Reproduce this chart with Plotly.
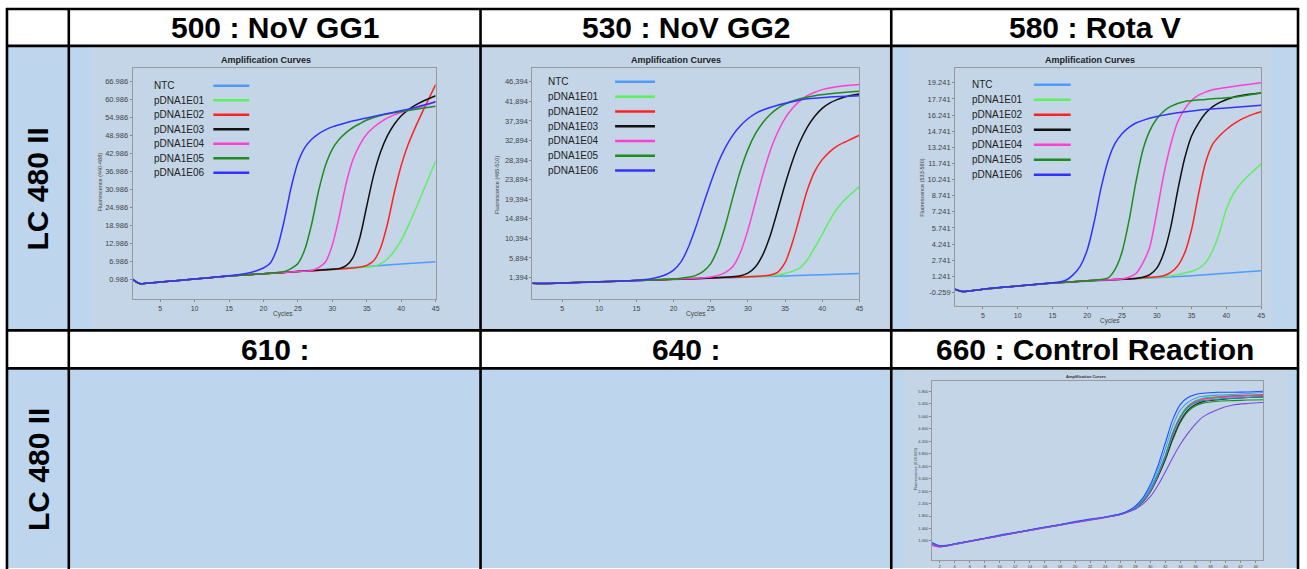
import plotly.graph_objects as go

W, H = 1307, 569

# ---------------- data ----------------
SERIES_NAMES = ["NTC", "pDNA1E01", "pDNA1E02", "pDNA1E03", "pDNA1E04", "pDNA1E05", "pDNA1E06"]
SERIES_COLORS = ["#4f9bff", "#5ef05e", "#ff2222", "#111111", "#ff3fd2", "#1e8c1e", "#3333ff"]

# Panel 1 : 500 NoV GG1
G1_NTC_X = [1, 2, 3, 5, 10, 15, 20, 25, 30, 35, 40, 45]
G1_NTC_Y = [1.0, -0.4, -0.3, 0.1, 1.1, 2.1, 2.9, 3.7, 4.5, 5.3, 6.1, 6.9]
G1_E01_X = [1, 2, 3, 5, 10, 15, 20, 25, 30, 35, 36, 37, 38, 39, 40, 41, 42, 43, 44, 45]
G1_E01_Y = [1.0, -0.4, -0.3, 0.1, 1.1, 2.1, 2.9, 3.6, 4.3, 5.1, 5.4, 6.2, 7.8, 10.5, 14.0, 18.8, 24.0, 29.5, 35.0, 40.4]
G1_E02_X = [1, 2, 3, 5, 10, 15, 20, 25, 30, 33, 34, 35, 36, 37, 38, 39, 40, 41, 42, 43, 44, 45]
G1_E02_Y = [1.0, -0.4, -0.3, 0.1, 1.1, 2.1, 2.9, 3.6, 4.3, 4.8, 5.1, 5.7, 7.2, 11.5, 19.5, 30.0, 39.0, 46.0, 51.5, 56.5, 61.3, 66.0]
G1_E03_X = [1, 2, 3, 5, 10, 15, 20, 25, 30, 31, 32, 33, 34, 35, 36, 37, 38, 39, 40, 41, 42, 43, 45]
G1_E03_Y = [1.0, -0.4, -0.3, 0.1, 1.1, 2.1, 2.9, 3.6, 4.4, 4.6, 5.6, 8.3, 15.0, 25.5, 35.8, 43.5, 49.0, 52.8, 55.6, 57.6, 59.1, 60.3, 62.3]
G1_E04_X = [1, 2, 3, 5, 10, 15, 20, 25, 27, 28, 29, 30, 31, 32, 33, 34, 35, 36, 37, 38, 40, 42, 45]
G1_E04_Y = [1.0, -0.4, -0.3, 0.1, 1.1, 2.1, 2.9, 3.6, 4.0, 4.9, 6.8, 12.5, 22.0, 33.0, 41.0, 46.0, 49.5, 51.8, 53.5, 54.9, 56.8, 58.0, 60.3]
G1_E05_X = [1, 2, 3, 5, 10, 15, 20, 22, 23, 24, 25, 26, 27, 28, 29, 30, 31, 32, 33, 34, 35, 37, 40, 43, 45]
G1_E05_Y = [1.0, -0.4, -0.3, 0.1, 1.1, 2.1, 2.9, 3.3, 3.6, 4.6, 6.3, 11.0, 19.5, 30.5, 39.0, 44.5, 47.8, 50.0, 51.7, 53.0, 54.2, 55.7, 57.0, 58.1, 58.8]
G1_E06_X = [1, 2, 3, 5, 10, 15, 17, 18, 19, 20, 21, 22, 23, 24, 25, 26, 27, 28, 29, 30, 32, 35, 38, 41, 45]
G1_E06_Y = [1.0, -0.4, -0.3, 0.1, 1.1, 2.2, 2.8, 3.2, 3.9, 4.8, 6.5, 11.5, 20.5, 31.5, 40.0, 45.0, 47.8, 49.6, 50.9, 51.9, 53.3, 54.9, 56.4, 57.8, 60.3]
G1_YTICKS = [0.986, 6.986, 12.986, 18.986, 24.986, 30.986, 36.986, 42.986, 48.986, 54.986, 60.986, 66.986]
G1_YLABELS = ["0.986", "6.986", "12.986", "18.986", "24.986", "30.986", "36.986", "42.986", "48.986", "54.986", "60.986", "66.986"]

# Panel 2 : 530 NoV GG2
G2_NTC_X = [1, 2, 3, 5, 10, 15, 20, 25, 30, 35, 40, 45]
G2_NTC_Y = [0.1, 0.0, 0.02, 0.15, 0.4, 0.68, 0.95, 1.22, 1.5, 1.77, 2.04, 2.31]
G2_E01_X = [1, 2, 3, 5, 10, 15, 20, 25, 30, 33, 34, 35, 36, 37, 38, 39, 40, 41, 42, 43, 44, 45]
G2_E01_Y = [0.1, 0.0, 0.02, 0.15, 0.4, 0.7, 1.0, 1.3, 1.6, 1.8, 2.0, 2.3, 2.8, 3.6, 5.5, 8.3, 11.3, 14.5, 17.2, 19.2, 20.8, 22.3]
G2_E02_X = [1, 2, 3, 5, 10, 15, 20, 25, 30, 33, 34, 35, 36, 37, 38, 39, 40, 41, 42, 43, 44, 45]
G2_E02_Y = [0.1, 0.0, 0.02, 0.15, 0.4, 0.7, 1.0, 1.3, 1.6, 2.0, 2.6, 4.8, 9.5, 15.5, 21.5, 25.8, 28.5, 30.3, 31.6, 32.5, 33.3, 34.1]
G2_E03_X = [1, 2, 3, 5, 10, 15, 20, 25, 29, 30, 31, 32, 33, 34, 35, 36, 37, 38, 39, 40, 41, 42, 43, 44, 45]
G2_E03_Y = [0.1, 0.0, 0.02, 0.15, 0.4, 0.7, 1.0, 1.3, 1.8, 2.4, 3.8, 6.6, 11.0, 16.8, 22.8, 28.2, 32.6, 36.0, 38.5, 40.3, 41.5, 42.3, 42.9, 43.3, 43.6]
G2_E04_X = [1, 2, 3, 5, 10, 15, 20, 25, 27, 28, 29, 30, 31, 32, 33, 34, 35, 36, 37, 38, 39, 40, 41, 43, 45]
G2_E04_Y = [0.1, 0.0, 0.02, 0.15, 0.4, 0.7, 1.05, 1.5, 2.6, 4.0, 7.2, 12.3, 18.6, 25.0, 30.5, 34.8, 38.0, 40.3, 42.0, 43.2, 44.0, 44.6, 45.0, 45.5, 45.8]
G2_E05_X = [1, 2, 3, 5, 10, 15, 20, 21, 22, 23, 24, 25, 26, 27, 28, 29, 30, 31, 32, 33, 34, 35, 37, 39, 42, 45]
G2_E05_Y = [0.1, 0.0, 0.02, 0.15, 0.4, 0.7, 1.1, 1.25, 1.45, 1.9, 2.8, 4.6, 8.2, 13.6, 20.0, 26.0, 30.8, 34.4, 37.0, 38.9, 40.3, 41.3, 42.5, 43.2, 43.8, 44.2]
G2_E06_X = [1, 2, 3, 5, 10, 15, 17, 18, 19, 20, 21, 22, 23, 24, 25, 26, 27, 28, 29, 30, 31, 32, 34, 36, 38, 41, 45]
G2_E06_Y = [0.1, 0.0, 0.02, 0.15, 0.4, 0.75, 1.1, 1.5, 2.1, 3.1, 5.0, 8.4, 13.0, 18.2, 23.2, 27.8, 31.4, 34.2, 36.3, 37.9, 39.1, 39.9, 41.0, 41.8, 42.5, 42.9, 43.2]
G2_YTICKS = [1.394, 5.894, 10.394, 14.894, 19.394, 23.894, 28.394, 32.894, 37.394, 41.894, 46.394]
G2_YLABELS = ["1,394", "5,894", "10,394", "14,894", "19,394", "23,894", "28,394", "32,894", "37,394", "41,894", "46,394"]

# Panel 3 : 580 Rota V
RV_NTC_X = [1, 2, 3, 5, 10, 15, 20, 25, 30, 35, 40, 45]
RV_NTC_Y = [0.05, -0.17, -0.12, 0.05, 0.35, 0.6, 0.78, 0.95, 1.12, 1.3, 1.52, 1.76]
RV_E01_X = [1, 2, 3, 5, 10, 15, 20, 25, 30, 32, 33, 34, 35, 36, 37, 38, 39, 40, 41, 42, 43, 44, 45]
RV_E01_Y = [0.05, -0.17, -0.12, 0.05, 0.35, 0.62, 0.82, 0.98, 1.15, 1.3, 1.4, 1.55, 1.7, 1.95, 2.5, 3.6, 5.3, 7.5, 8.9, 9.8, 10.5, 11.1, 11.7]
RV_E02_X = [1, 2, 3, 5, 10, 15, 20, 25, 29, 30, 31, 32, 33, 34, 35, 36, 37, 38, 39, 40, 41, 42, 43, 44, 45]
RV_E02_Y = [0.05, -0.17, -0.12, 0.05, 0.35, 0.62, 0.82, 0.98, 1.15, 1.2, 1.3, 1.6, 2.2, 3.4, 5.6, 8.9, 11.8, 13.5, 14.3, 14.9, 15.4, 15.8, 16.1, 16.35, 16.55]
RV_E03_X = [1, 2, 3, 5, 10, 15, 20, 25, 27, 28, 29, 30, 31, 32, 33, 34, 35, 36, 37, 38, 39, 41, 43, 45]
RV_E03_Y = [0.05, -0.17, -0.12, 0.05, 0.35, 0.62, 0.82, 0.98, 1.05, 1.15, 1.4, 2.0, 3.4, 5.8, 9.2, 12.2, 14.3, 15.5, 16.4, 17.0, 17.4, 17.9, 18.15, 18.3]
RV_E04_X = [1, 2, 3, 5, 10, 15, 20, 24, 25, 26, 27, 28, 29, 30, 31, 32, 33, 34, 35, 36, 38, 41, 45]
RV_E04_Y = [0.05, -0.17, -0.12, 0.05, 0.35, 0.62, 0.82, 0.95, 1.0, 1.15, 1.5, 2.5, 4.0, 7.2, 10.7, 13.5, 15.6, 16.8, 17.6, 18.1, 18.6, 18.9, 19.24]
RV_E05_X = [1, 2, 3, 5, 10, 15, 20, 21, 22, 23, 24, 25, 26, 27, 28, 29, 30, 31, 32, 34, 37, 41, 45]
RV_E05_Y = [0.05, -0.17, -0.12, 0.05, 0.35, 0.62, 0.82, 0.88, 0.95, 1.1, 1.9, 3.5, 6.4, 10.0, 13.0, 14.8, 15.9, 16.6, 17.05, 17.5, 17.7, 17.9, 18.3]
RV_E06_X = [1, 2, 3, 5, 10, 15, 16, 17, 18, 19, 20, 21, 22, 23, 24, 25, 26, 27, 28, 30, 33, 36, 40, 45]
RV_E06_Y = [0.05, -0.17, -0.12, 0.05, 0.35, 0.65, 0.72, 0.9, 1.4, 2.2, 3.7, 6.3, 9.5, 12.0, 13.6, 14.5, 15.1, 15.5, 15.75, 16.1, 16.45, 16.7, 16.9, 17.15]
RV_YTICKS = [-0.259, 1.241, 2.741, 4.241, 5.741, 7.241, 8.741, 10.241, 11.741, 13.241, 14.741, 16.241, 17.741, 19.241]
RV_YLABELS = ["-0.259", "1.241", "2.741", "4.241", "5.741", "7.241", "8.741", "10.241", "11.741", "13.241", "14.741", "16.241", "17.741", "19.241"]

X_TICKS = [5, 10, 15, 20, 25, 30, 35, 40, 45]

# Panel 4 : 660 Control Reaction
CTRL_CYCLES = [1, 2, 3, 4, 6, 8, 10, 12, 14, 16, 18, 20, 22, 24, 26, 27, 28, 29, 30, 31, 32, 33, 34, 35, 36, 37, 39, 41, 43, 45]
CTRL_BLUE = [0.95, 0.85, 0.86, 0.91, 1.0, 1.09, 1.19, 1.27, 1.36, 1.45, 1.53, 1.62, 1.7, 1.77, 1.87, 1.96, 2.12, 2.38, 2.8, 3.4, 4.15, 4.9, 5.38, 5.6, 5.7, 5.74, 5.77, 5.77, 5.78, 5.8]
CTRL_LIGHTBLUE = [0.93, 0.84, 0.86, 0.9, 0.99, 1.08, 1.18, 1.27, 1.35, 1.44, 1.52, 1.61, 1.69, 1.77, 1.86, 1.95, 2.1, 2.35, 2.72, 3.28, 3.95, 4.7, 5.2, 5.45, 5.58, 5.64, 5.68, 5.7, 5.73, 5.76]
CTRL_GREEN = [0.92, 0.83, 0.85, 0.9, 0.99, 1.08, 1.17, 1.26, 1.35, 1.43, 1.52, 1.6, 1.68, 1.76, 1.86, 1.94, 2.08, 2.3, 2.65, 3.15, 3.75, 4.5, 5.0, 5.33, 5.5, 5.58, 5.63, 5.66, 5.68, 5.7]
CTRL_MAGENTA = [0.86, 0.81, 0.84, 0.89, 0.98, 1.07, 1.16, 1.25, 1.34, 1.42, 1.51, 1.59, 1.67, 1.75, 1.85, 1.93, 2.06, 2.27, 2.6, 3.1, 3.7, 4.4, 4.95, 5.3, 5.47, 5.55, 5.6, 5.63, 5.66, 5.68]
CTRL_RED = [0.9, 0.82, 0.85, 0.9, 0.99, 1.08, 1.17, 1.26, 1.35, 1.43, 1.52, 1.6, 1.68, 1.76, 1.85, 1.93, 2.07, 2.28, 2.62, 3.12, 3.72, 4.45, 4.98, 5.3, 5.46, 5.54, 5.6, 5.64, 5.66, 5.67]
CTRL_BLACK = [0.91, 0.83, 0.85, 0.9, 0.99, 1.08, 1.17, 1.26, 1.34, 1.43, 1.51, 1.6, 1.68, 1.76, 1.86, 1.94, 2.06, 2.26, 2.58, 3.05, 3.62, 4.3, 4.85, 5.2, 5.38, 5.47, 5.53, 5.57, 5.6, 5.62]
CTRL_DARKGREEN = [0.92, 0.83, 0.85, 0.9, 0.99, 1.08, 1.17, 1.26, 1.35, 1.43, 1.52, 1.6, 1.68, 1.76, 1.85, 1.93, 2.05, 2.25, 2.57, 3.05, 3.6, 4.25, 4.8, 5.15, 5.33, 5.42, 5.48, 5.5, 5.52, 5.53]
CTRL_TEAL = [0.93, 0.84, 0.85, 0.9, 0.99, 1.08, 1.17, 1.26, 1.35, 1.43, 1.52, 1.6, 1.68, 1.76, 1.86, 1.94, 2.07, 2.29, 2.63, 3.13, 3.73, 4.45, 4.97, 5.28, 5.43, 5.5, 5.55, 5.58, 5.6, 5.62]
CTRL_PURPLE = [0.9, 0.82, 0.85, 0.9, 0.99, 1.08, 1.17, 1.26, 1.35, 1.43, 1.52, 1.6, 1.68, 1.76, 1.85, 1.93, 2.02, 2.18, 2.42, 2.78, 3.22, 3.68, 4.1, 4.45, 4.75, 4.98, 5.22, 5.36, 5.41, 5.44]
CTRL_SERIES = [CTRL_GREEN, CTRL_DARKGREEN, CTRL_BLACK, CTRL_RED, CTRL_MAGENTA, CTRL_TEAL, CTRL_LIGHTBLUE, CTRL_BLUE, CTRL_PURPLE]
CTRL_COLORS = ["#22cc22", "#1e8c1e", "#222222", "#ff2a2a", "#ff33cc", "#00a8a8", "#3aa0ff", "#1f4fff", "#7a4ae0"]
CTRL_XTICKS = [2, 4, 6, 8, 10, 12, 14, 16, 18, 20, 22, 24, 26, 28, 30, 32, 34, 36, 38, 40, 42, 44]
CTRL_YTICKS = [1.0, 1.4, 1.8, 2.2, 2.6, 3.0, 3.4, 3.8, 4.2, 4.6, 5.0, 5.4, 5.8]
CTRL_YLABELS = ["1.000", "1.400", "1.800", "2.200", "2.600", "3.000", "3.400", "3.800", "4.200", "4.600", "5.000", "5.400", "5.800"]

COL_HEADERS = ["500 : NoV GG1", "530 : NoV GG2", "580 : Rota V", "610 :", "640 :", "660 : Control Reaction"]
ROW_LABEL = "LC 480 II"

# ---------------- helpers ----------------
def fx(p):
    return p / W

def fy(p):
    return 1 - p / H

def note(text, px, py, size, color, angle=0, xanchor="center"):
    return dict(text=text, x=fx(px), y=fy(py), xref="paper", yref="paper", xanchor=xanchor,
                yanchor="middle", textangle=angle, showarrow=False,
                font=dict(size=size, color=color, family="Liberation Sans"))

fig = go.Figure()

panels = [
    dict(ax="", xs=[G1_NTC_X, G1_E01_X, G1_E02_X, G1_E03_X, G1_E04_X, G1_E05_X, G1_E06_X],
         ys=[G1_NTC_Y, G1_E01_Y, G1_E02_Y, G1_E03_Y, G1_E04_Y, G1_E05_Y, G1_E06_Y],
         box=(133, 437, 68, 300), yr=[-5.7, 71.6], yt=G1_YTICKS, yl=G1_YLABELS,
         title_xy=(267, 60), ytitle="Fluorescence (440-488)", ytitle_xy=(100, 182), cyc_xy=(284, 315),
         leg=(152, 214, 250, 86, 14.5)),
    dict(ax="2", xs=[G2_NTC_X, G2_E01_X, G2_E02_X, G2_E03_X, G2_E04_X, G2_E05_X, G2_E06_X],
         ys=[G2_NTC_Y, G2_E01_Y, G2_E02_Y, G2_E03_Y, G2_E04_Y, G2_E05_Y, G2_E06_Y],
         box=(534, 862, 68, 300), yr=[-3.65, 49.6], yt=G2_YTICKS, yl=G2_YLABELS,
         title_xy=(678, 60), ytitle="Fluorescence (465-510)", ytitle_xy=(498, 185), cyc_xy=(698, 315),
         leg=(548, 617, 657, 82, 14.8)),
    dict(ax="3", xs=[RV_NTC_X, RV_E01_X, RV_E02_X, RV_E03_X, RV_E04_X, RV_E05_X, RV_E06_X],
         ys=[RV_NTC_Y, RV_E01_Y, RV_E02_Y, RV_E03_Y, RV_E04_Y, RV_E05_Y, RV_E06_Y],
         box=(958, 1265, 68, 307), yr=[-1.56, 20.63], yt=RV_YTICKS, yl=RV_YLABELS,
         title_xy=(1093, 60), ytitle="Fluorescence (533-580)", ytitle_xy=(925, 188), cyc_xy=(1113, 322),
         leg=(973, 1037, 1074, 85, 15.0)),
]

annotations = []
shapes = []

CELL_BLUE = "#bdd6ee"
IMG_BG = "#c3d5e7"

# cell backgrounds
shapes.append(dict(type="rect", xref="paper", yref="paper", x0=fx(7), x1=fx(1302), y0=fy(331), y1=fy(46),
                   fillcolor=CELL_BLUE, line=dict(width=0), layer="below"))
shapes.append(dict(type="rect", xref="paper", yref="paper", x0=fx(7), x1=fx(1302), y0=fy(569), y1=fy(369),
                   fillcolor=CELL_BLUE, line=dict(width=0), layer="below"))
for (a, b, c, d) in [(92, 481, 47, 330), (485, 893, 47, 330), (912, 1277, 47, 330), (905, 1292, 370, 569)]:
    shapes.append(dict(type="rect", xref="paper", yref="paper", x0=fx(a), x1=fx(b), y0=fy(d), y1=fy(c),
                       fillcolor=IMG_BG, line=dict(width=0), layer="below"))

def axis_common(fs, tl):
    return dict(showgrid=False, zeroline=False, showline=True, mirror=True, linecolor="#9a9a9a",
                linewidth=1, ticks="outside", ticklen=tl, tickcolor="#888",
                tickfont=dict(size=fs, color="#444", family="Liberation Sans"), fixedrange=True)

layout_axes = {}
for p in panels:
    ax = p["ax"]
    x0, x1, y0, y1 = p["box"]
    xa = axis_common(7, 2)
    xa.update(domain=[fx(x0), fx(x1)], range=[1, 45], tickvals=X_TICKS, anchor="y" + ax)
    ya = axis_common(7.5, 2)
    ya.update(domain=[fy(y1), fy(y0)], range=p["yr"], tickvals=p["yt"], ticktext=p["yl"], anchor="x" + ax)
    layout_axes["xaxis" + ax] = xa
    layout_axes["yaxis" + ax] = ya
    for xs, ys, col in zip(p["xs"], p["ys"], SERIES_COLORS):
        fig.add_trace(go.Scatter(x=xs, y=ys, mode="lines", xaxis="x" + ax, yaxis="y" + ax,
                                 line=dict(color=col, width=1.5, shape="spline", smoothing=0.8),
                                 showlegend=False, hoverinfo="skip"))
    tx, ty = p["title_xy"]
    annotations.append(note("<b>Amplification Curves</b>", tx, ty, 9, "#222"))
    ax_, ay_ = p["ytitle_xy"]
    annotations.append(note(p["ytitle"], ax_, ay_, 5.5, "#444", angle=-90))
    cx, cy = p["cyc_xy"]
    annotations.append(note("Cycles", cx, cy, 6.5, "#444"))
    ltx, llx0, llx1, ly0, ldy = p["leg"]
    for i, (nm, col) in enumerate(zip(SERIES_NAMES, SERIES_COLORS)):
        yy = ly0 + i * ldy
        annotations.append(note(nm, ltx, yy, 10, "#222", xanchor="left"))
        shapes.append(dict(type="line", xref="paper", yref="paper", x0=fx(llx0), x1=fx(llx1), y0=fy(yy), y1=fy(yy),
                           line=dict(color=col, width=2.5)))

# control panel
xa = axis_common(4, 2)
xa.update(domain=[fx(935), fx(1267)], range=[1, 45], tickvals=CTRL_XTICKS, anchor="y4")
ya = axis_common(4, 2)
ya.update(domain=[fy(561), fy(382)], range=[0.39, 6.12], tickvals=CTRL_YTICKS, ticktext=CTRL_YLABELS,
          anchor="x4")
layout_axes["xaxis4"] = xa
layout_axes["yaxis4"] = ya
for ys, col in zip(CTRL_SERIES, CTRL_COLORS):
    fig.add_trace(go.Scatter(x=CTRL_CYCLES, y=ys, mode="lines", xaxis="x4", yaxis="y4",
                             line=dict(color=col, width=1.1, shape="spline", smoothing=0.8),
                             showlegend=False, hoverinfo="skip"))
annotations.append(note("<b>Amplification Curves</b>", 1090, 377, 4, "#333"))
annotations.append(note("Fluorescence (618-660)", 918, 470, 4, "#444", angle=-90))

# table borders
BL = dict(color="black", width=2.6)
for xv in [7, 69, 482, 894, 1302]:
    shapes.append(dict(type="line", xref="paper", yref="paper", x0=fx(xv), x1=fx(xv), y0=fy(572), y1=fy(8),
                       line=BL))
for yv in [9, 46, 331, 369]:
    shapes.append(dict(type="line", xref="paper", yref="paper", x0=fx(6), x1=fx(1303), y0=fy(yv), y1=fy(yv),
                       line=BL))

# headers
col_centers = [275.5, 688, 1098]
for i, txt in enumerate(COL_HEADERS):
    cx = col_centers[i % 3]
    cy = 28 if i < 3 else 350
    annotations.append(note("<b>" + txt + "</b>", cx, cy, 30, "black"))
for cy in [189, 470]:
    annotations.append(note("<b>" + ROW_LABEL + "</b>", 38, cy, 30, "black", angle=-90))

fig.update_layout(width=W, height=H, margin=dict(l=0, r=0, t=0, b=0), paper_bgcolor="white",
                  plot_bgcolor="white", showlegend=False, annotations=annotations, shapes=shapes,
                  **layout_axes)

fig.write_html("out.html", config={"displayModeBar": False},
               post_script="document.body.style.margin='0px';document.body.style.overflow='hidden';")
